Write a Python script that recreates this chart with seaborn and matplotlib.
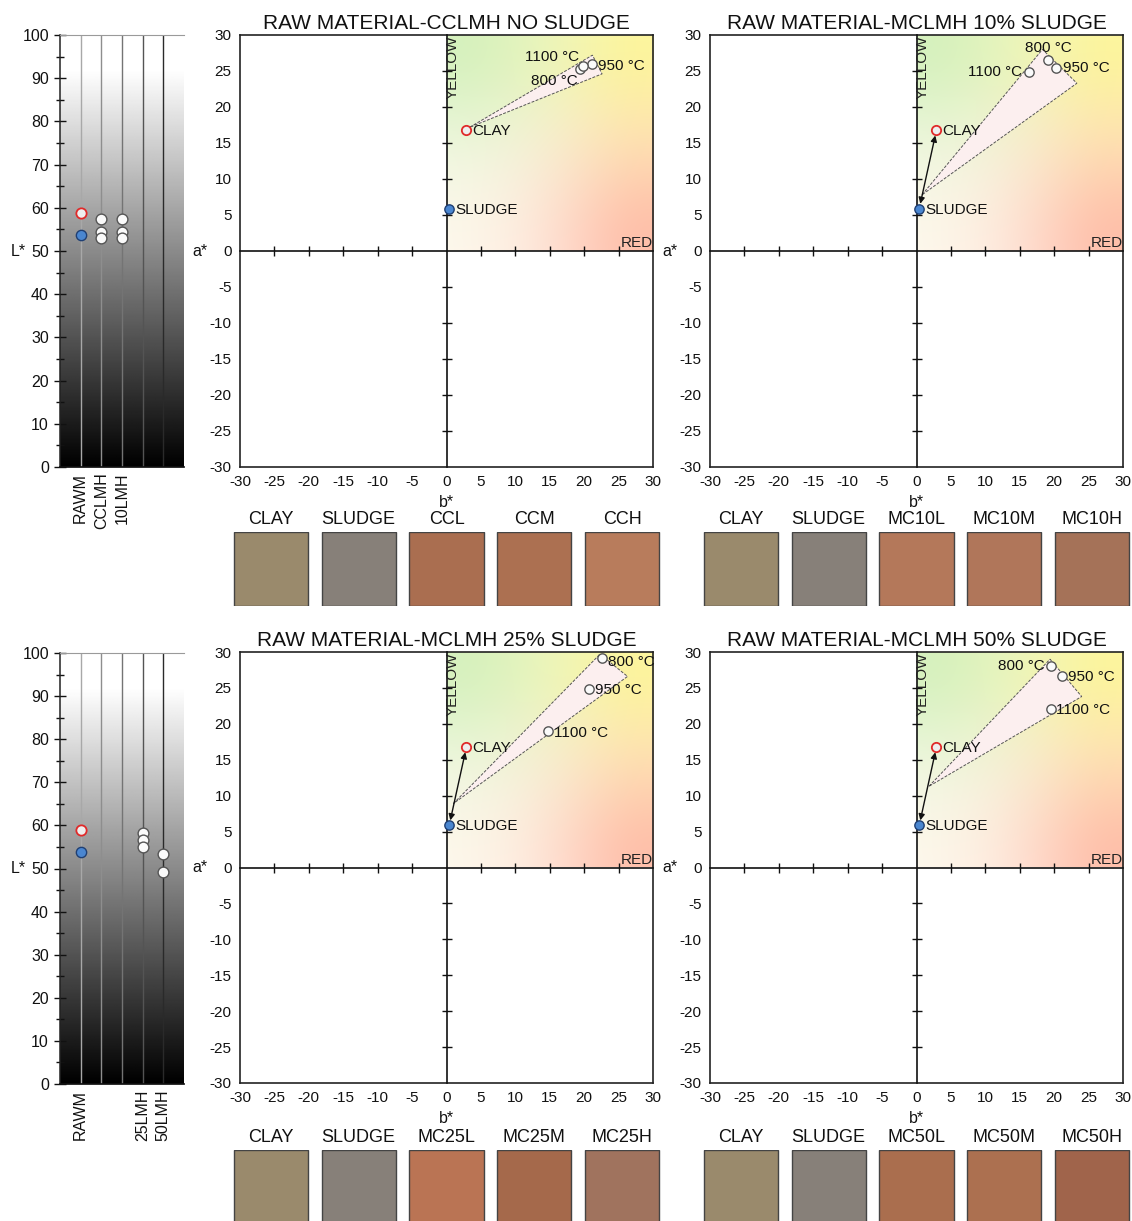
import numpy as np
import pandas as pd
import seaborn as sns
import matplotlib.pyplot as plt
from matplotlib.patches import Polygon

# ---- L* values (left strips) ----
l_labels_top = ['RAWM', 'CCLMH', '10LMH', '', '']
l_labels_bot = ['RAWM', '', '', '25LMH', '50LMH']
l_clay = 58.9
l_sludge = 53.8
l_cclmh = [57.4, 54.4, 52.9]
l_10lmh = [57.4, 54.4, 52.9]
l_25lmh = [58.2, 56.6, 54.9]
l_50lmh = [53.3, 49.1]

# ---- b*, a* values (colour planes) ----
clay_b, clay_a = 2.9, 16.8
sludge_b, sludge_a = 0.4, 5.9
temps = ['800 °C', '950 °C', '1100 °C']

cc_b = [19.4, 21.2, 19.9]
cc_a = [25.3, 26.0, 25.7]
mc10_b = [19.1, 20.2, 16.3]
mc10_a = [26.5, 25.4, 24.8]
mc25_b = [22.6, 20.7, 14.7]
mc25_a = [29.1, 24.9, 19.0]
mc50_b = [19.5, 21.2, 19.6]
mc50_a = [28.1, 26.6, 22.0]

# spread wedges drawn round the fired samples
cc_wedge_b = [3.4, 21.2, 22.6]
cc_wedge_a = [17.2, 27.2, 24.6]
mc10_wedge_b = [0.8, 18.3, 23.3]
mc10_wedge_a = [7.8, 28.0, 23.3]
mc25_wedge_b = [1.0, 22.3, 26.3]
mc25_wedge_a = [8.9, 29.7, 26.6]
mc50_wedge_b = [1.8, 19.4, 24.0]
mc50_wedge_a = [11.3, 29.0, 23.8]

# ---- colour swatches ----
sw_cc_names = ['CLAY', 'SLUDGE', 'CCL', 'CCM', 'CCH']
sw_cc_cols = ['#9a8a6c', '#878079', '#aa6e50', '#ac7051', '#b87c5c']
sw_10_names = ['CLAY', 'SLUDGE', 'MC10L', 'MC10M', 'MC10H']
sw_10_cols = ['#9a8a6c', '#878079', '#b4785a', '#b0765a', '#a57258']
sw_25_names = ['CLAY', 'SLUDGE', 'MC25L', 'MC25M', 'MC25H']
sw_25_cols = ['#9a8a6c', '#878079', '#ba7454', '#a5694b', '#a0735e']
sw_50_names = ['CLAY', 'SLUDGE', 'MC50L', 'MC50M', 'MC50H']
sw_50_cols = ['#9a8a6c', '#878079', '#aa6e4e', '#ac7050', '#a0644b']

sns.set_theme(style='white')
plt.rcParams['font.family'] = ['Liberation Sans', 'DejaVu Sans']
plt.rcParams['axes.unicode_minus'] = False
plt.rcParams['text.color'] = '#111111'
plt.rcParams['axes.labelcolor'] = '#111111'
plt.rcParams['xtick.color'] = '#111111'
plt.rcParams['ytick.color'] = '#111111'

W, H = 1132, 1221
fig = plt.figure(figsize=(W / 100, H / 100), dpi=100)


def rect(l, t, r, b):
    return [l / W, 1 - b / H, (r - l) / W, (b - t) / H]


CLAY_STYLE = dict(color='#eeeeee', edgecolor='#e02a2a', linewidth=1.3)
SLUDGE_STYLE = dict(color='#4a86d0', edgecolor='#1f3f73', linewidth=1.0)
FIRED_STYLE = dict(color='#fafafa', edgecolor='#555555', linewidth=1.0)


def l_panel(box, labels, fired):
    ax = fig.add_axes(rect(*box))
    lv = np.linspace(0, 100, 400)
    ax.imshow(np.clip(lv / 92, 0, 1)[:, None], extent=[0, 6, 0, 100], origin='lower',
              cmap='gray', vmin=0, vmax=1, aspect='auto', zorder=0)
    line_cols = ['#a8a8a8', '#8e8e8e', '#747474', '#545454', '#2a2a2a']
    for i, c in enumerate(line_cols):
        ax.axvline(i + 1, color=c, lw=1, zorder=1)
    sns.scatterplot(x=[1], y=[l_clay], s=55, zorder=4, ax=ax, **CLAY_STYLE)
    sns.scatterplot(x=[1], y=[l_sludge], s=55, zorder=4, ax=ax, **SLUDGE_STYLE)
    for pos, vals in fired:
        df = pd.DataFrame({'x': [pos] * len(vals), 'L': vals})
        sns.scatterplot(data=df, x='x', y='L', s=60, zorder=4, ax=ax, **FIRED_STYLE)
    ax.set_xlim(0, 6)
    ax.set_ylim(0, 100)
    ax.set_xticks(range(1, 6))
    ax.set_xticklabels(labels, rotation=90, fontsize=11.5)
    ax.set_yticks(range(0, 101, 10))
    ax.set_yticks(range(5, 100, 10), minor=True)
    ax.tick_params(axis='y', which='major', direction='inout', length=8, width=1,
                   labelsize=11.5, left=True, pad=4)
    ax.tick_params(axis='y', which='minor', direction='inout', length=6, width=1, left=True)
    ax.tick_params(axis='x', length=0, pad=4)
    ax.spines['left'].set_color('#222222')
    ax.spines['left'].set_linewidth(1.1)
    ax.spines['bottom'].set_color('#111111')
    ax.spines['top'].set_color('#9a9a9a')
    ax.spines['top'].set_linewidth(0.8)
    ax.spines['right'].set_visible(False)
    ax.set_xlabel('')
    ax.set_ylabel('L*', rotation=0, fontsize=11.5, ha='right', va='center')
    ax.yaxis.set_label_coords(-0.275, 0.5)
    return ax


def plane_background():
    bb, aa = np.meshgrid(np.linspace(0, 30, 200), np.linspace(0, 30, 200))
    corners = [((0, 0), (255, 251, 242)), ((30, 0), (255, 192, 176)),
               ((0, 30), (214, 242, 196)), ((30, 30), (255, 249, 165))]
    img = np.ones(bb.shape + (3,)) * 255.0
    for (cb, ca), col in corners:
        w = np.exp(-((bb - cb) ** 2 + (aa - ca) ** 2) / 17.0 ** 2)
        for k in range(3):
            img[..., k] += w * (col[k] - 255)
    return np.clip(img, 0, 255) / 255.0


def ab_panel(box, title, fb, fa, wb, wa, offsets, arrow):
    ax = fig.add_axes(rect(*box))
    ax.imshow(plane_background(), extent=[0, 30, 0, 30], origin='lower', aspect='auto', zorder=0)
    ax.set_xlim(-30, 30)
    ax.set_ylim(-30, 30)
    ticks = list(range(-30, 31, 5))
    ax.set_xticks(ticks)
    ax.set_yticks(ticks)
    ax.tick_params(length=0, labelsize=11, pad=6)
    for s in ax.spines.values():
        s.set_color('#222222')
        s.set_linewidth(1.2)
    ax.set_title(title, fontsize=15, pad=4)
    ax.set_ylabel('a*', rotation=0, fontsize=11.5, ha='right', va='center')
    ax.yaxis.set_label_coords(-0.078, 0.5)
    ax.set_xlabel('b*', fontsize=11.5, va='center')
    ax.xaxis.set_label_coords(0.5, -0.082)

    # overlay with the centred axes and all the marks
    ov = fig.add_axes(rect(*box))
    ov.patch.set_visible(False)
    ov.set_xlim(-30, 30)
    ov.set_ylim(-30, 30)
    for side in ['top', 'right']:
        ov.spines[side].set_visible(False)
    for side in ['left', 'bottom']:
        ov.spines[side].set_position(('data', 0))
        ov.spines[side].set_color('#111111')
        ov.spines[side].set_linewidth(1.2)
    inner = [t for t in range(-25, 26, 5) if t != 0]
    ov.set_xticks(inner)
    ov.set_yticks(inner)
    ov.tick_params(direction='inout', length=7, width=1, colors='#111111',
                   labelleft=False, labelbottom=False, left=True, bottom=True)

    ov.add_patch(Polygon(np.column_stack([wb, wa]), closed=True, facecolor='#fcefef',
                         edgecolor='#555555', lw=0.7, ls=(0, (3, 1.5)), zorder=2))
    if arrow:
        ov.annotate('', xy=(clay_b, clay_a), xytext=(sludge_b, sludge_a),
                    arrowprops=dict(arrowstyle='<|-|>', color='#111111', lw=1,
                                    shrinkA=3.5, shrinkB=4, mutation_scale=9), zorder=3)
    sns.scatterplot(x=[clay_b], y=[clay_a], s=45, zorder=4, ax=ov, **CLAY_STYLE)
    sns.scatterplot(x=[sludge_b], y=[sludge_a], s=45, zorder=4, ax=ov, **SLUDGE_STYLE)
    df = pd.DataFrame({'b': fb, 'a': fa, 'T': temps})
    sns.scatterplot(data=df, x='b', y='a', s=45, zorder=4, ax=ov, **FIRED_STYLE)
    for (_, row), (dx, dy, ha) in zip(df.iterrows(), offsets):
        ov.annotate(row['T'], (row['b'], row['a']), xytext=(dx, dy), textcoords='offset pixels',
                    ha=ha, va='center', fontsize=11, zorder=5)
    ov.annotate('CLAY', (clay_b, clay_a), xytext=(6, -1), textcoords='offset pixels',
                ha='left', va='center', fontsize=11, zorder=5)
    ov.annotate('SLUDGE', (sludge_b, sludge_a), xytext=(6, -1), textcoords='offset pixels',
                ha='left', va='center', fontsize=11, zorder=5)
    ov.text(0.95, 29.9, 'YELLOW', rotation=90, ha='center', va='top', fontsize=11,
            color='#222222', zorder=5)
    ov.text(30, 0.1, 'RED', ha='right', va='bottom', fontsize=11, color='#222222', zorder=5)
    ov.set_xlabel('')
    ov.set_ylabel('')
    return ax


def swatch_panel(box, names, cols):
    ax = fig.add_axes(rect(*box))
    sns.barplot(x=names, y=[1] * len(names), hue=names, palette=cols, legend=False,
                saturation=1, width=0.845, edgecolor='#444444', linewidth=1, ax=ax)
    ax.set_xlim(-0.5, len(names) - 0.5)
    ax.set_ylim(0, 1)
    ax.xaxis.tick_top()
    ax.tick_params(axis='x', length=0, labelsize=13, pad=3)
    ax.set_yticks([])
    ax.set_xlabel('')
    ax.set_ylabel('')
    for s in ax.spines.values():
        s.set_visible(False)
    return ax


# top row
l_panel((60, 35, 184, 467), l_labels_top, [(2, l_cclmh), (3, l_10lmh)])
ab_panel((240, 35, 653, 467), 'RAW MATERIAL-CCLMH NO SLUDGE', cc_b, cc_a,
         cc_wedge_b, cc_wedge_a,
         [(-2, -12, 'right'), (6, -2, 'left'), (-4, 9, 'right')], False)
ab_panel((710, 35, 1123, 467), 'RAW MATERIAL-MCLMH 10% SLUDGE', mc10_b, mc10_a,
         mc10_wedge_b, mc10_wedge_a,
         [(0, 12, 'center'), (7, 0, 'left'), (-7, 0, 'right')], True)
swatch_panel((227, 532, 666, 606), sw_cc_names, sw_cc_cols)
swatch_panel((697, 532, 1136, 606), sw_10_names, sw_10_cols)

# bottom row
l_panel((60, 653, 184, 1084), l_labels_bot, [(4, l_25lmh), (5, l_50lmh)])
ab_panel((240, 652, 653, 1083), 'RAW MATERIAL-MCLMH 25% SLUDGE', mc25_b, mc25_a,
         mc25_wedge_b, mc25_wedge_a,
         [(6, -4, 'left'), (6, -1, 'left'), (6, -2, 'left')], True)
ab_panel((710, 652, 1123, 1083), 'RAW MATERIAL-MCLMH 50% SLUDGE', mc50_b, mc50_a,
         mc50_wedge_b, mc50_wedge_a,
         [(-6, 0, 'right'), (6, -1, 'left'), (5, -1, 'left')], True)
swatch_panel((227, 1150, 666, 1226), sw_25_names, sw_25_cols)
swatch_panel((697, 1150, 1136, 1226), sw_50_names, sw_50_cols)

fig.savefig('out.png', dpi=100)
